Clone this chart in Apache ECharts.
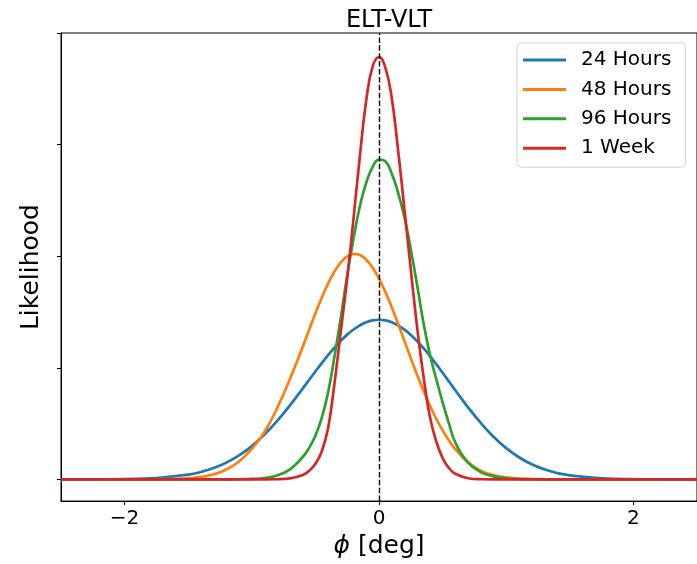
<!DOCTYPE html>
<html>
<head>
<meta charset="utf-8">
<script src="https://cdn.jsdelivr.net/npm/echarts@6/dist/echarts.min.js"></script>
<style>
  html, body { margin: 0; padding: 0; background: #fff; }
  #chart { width: 697px; height: 564px; }
</style>
</head>
<body>
<div id="chart"></div>
<script>
// phi [deg] sample positions
var phi = [-2.5,-2.25,-2,-1.75,-1.5,-1.4,-1.3,-1.2,-1.1,-1.0,-0.9,-0.8,-0.7,-0.6,
  -0.55,-0.5,-0.45,-0.4,-0.35,-0.3,-0.25,-0.2,-0.15,-0.1,-0.05,0,0.05,0.1,0.15,0.2,0.25,0.3,0.35,0.4,0.45,0.5,0.55,
  0.6,0.7,0.8,0.9,1.0,1.1,1.2,1.3,1.4,1.5,1.75,2,2.25,2.5];

var seriesNames = ['24 Hours', '48 Hours', '96 Hours', '1 Week'];

var hours24 = [0.0001,0.0005,0.003,0.012,0.042,0.066,0.101,0.150,0.215,0.298,0.402,0.524,0.663,0.813,
  0.890,0.966,1.041,1.113,1.180,1.242,1.297,1.343,1.380,1.408,1.424,1.430,1.424,1.408,1.379,1.341,1.294,1.238,1.175,1.106,1.032,0.955,0.877,
  0.798,0.645,0.505,0.382,0.280,0.198,0.135,0.090,0.057,0.036,0.010,0.002,0.0004,0.0001];

var hours48 = [0,0,0.0001,0.001,0.010,0.022,0.045,0.088,0.160,0.272,0.425,0.640,0.900,1.185,
  1.338,1.488,1.628,1.755,1.862,1.944,1.998,2.020,2.010,1.968,1.897,1.799,1.679,1.543,1.395,1.240,1.086,0.936,0.793,0.662,0.543,0.439,0.349,
  0.270,0.152,0.078,0.038,0.017,0.007,0.003,0.001,0.0004,0.0001,0,0,0,0];

var hours96 = [0,0,0,0,0,0,0,0,0.001,0.004,0.012,0.035,0.090,0.200,
  0.280,0.390,0.550,0.780,1.100,1.450,1.830,2.160,2.450,2.660,2.800,2.865,2.850,2.740,2.570,2.350,2.060,1.740,1.400,1.120,0.900,0.690,0.500,
  0.330,0.150,0.065,0.027,0.010,0.003,0.001,0,0,0,0,0,0,0];

var week1 = [0,0,0,0,0,0,0,0,0,0,0,0.001,0.008,0.038,
  0.075,0.140,0.250,0.460,0.860,1.330,1.800,2.340,2.900,3.400,3.700,3.785,3.690,3.420,2.950,2.420,1.880,1.360,0.920,0.560,0.340,0.190,0.100,
  0.050,0.010,0.001,0,0,0,0,0,0,0,0,0,0,0];

var xTicks = [-2, 0, 2];
var yTicks = [0, 1, 2, 3, 4];

var colors = ['#1f77b4', '#ff7f0e', '#2ca02c', '#d62728'];
var values = [hours24, hours48, hours96, week1];

function pairs(ys) {
  return phi.map(function (x, i) { return [x, ys[i]]; });
}

var FONT = 'DejaVu Sans';

var series = values.map(function (ys, k) {
  var s = {
    name: seriesNames[k],
    type: 'line',
    data: pairs(ys),
    showSymbol: false,
    smooth: 0.45,
    lineStyle: { color: colors[k], width: 2.7 },
    itemStyle: { color: colors[k] },
    emphasis: { disabled: true },
    silent: true
  };
  if (k === 0) {
    s.markLine = {
      silent: true,
      symbol: ['none', 'none'],
      label: { show: false },
      lineStyle: { color: '#000', type: [5.5, 2.4], width: 1.4 },
      data: [{ xAxis: 0 }]
    };
  }
  return s;
});

var chart = echarts.init(document.getElementById('chart'), null, { renderer: 'canvas' });
chart.setOption({
  animation: false,
  backgroundColor: '#fff',
  title: {
    text: 'ELT-VLT',
    left: 384,
    textAlign: 'center',
    top: 4,
    textStyle: { fontFamily: FONT, fontSize: 24, fontWeight: 'normal', color: '#000' }
  },
  legend: {
    data: seriesNames,
    orient: 'vertical',
    left: 517,
    top: 43,
    icon: 'rect',
    itemWidth: 43,
    itemHeight: 3,
    itemGap: 9.4,
    padding: [7, 14, 9, 6],
    borderColor: '#d0d0d0',
    borderWidth: 1,
    borderRadius: 4,
    backgroundColor: 'rgba(255,255,255,0.8)',
    textStyle: { fontFamily: FONT, fontSize: 20, color: '#000', lineHeight: 20, padding: [0, 0, 0, 10] }
  },
  grid: {
    left: 61, right: 0, top: 33, bottom: 58,
    show: true, borderColor: '#000', borderWidth: 1, backgroundColor: 'transparent'
  },
  xAxis: {
    type: 'value',
    min: -2.5, max: 2.5,
    name: '{i|ϕ} [deg]',
    nameLocation: 'middle',
    nameGap: 31,
    nameTextStyle: {
      fontFamily: FONT, fontSize: 25, color: '#000',
      rich: { i: { fontFamily: FONT, fontSize: 25, fontStyle: 'italic', color: '#000' } }
    },
    axisLine: { show: true, onZero: false, lineStyle: { color: '#000', width: 1 } },
    axisTick: { show: true, customValues: xTicks, length: 4, lineStyle: { color: '#000', width: 1 } },
    axisLabel: {
      customValues: xTicks,
      margin: 8,
      fontFamily: FONT, fontSize: 20, color: '#000',
      formatter: function (v) { return v < 0 ? '\u2212' + Math.abs(v) : String(v); }
    },
    splitLine: { show: false }
  },
  yAxis: {
    type: 'value',
    min: -0.195, max: 4.0,
    name: 'Likelihood',
    nameLocation: 'middle',
    nameGap: 17,
    nameTextStyle: { fontFamily: FONT, fontSize: 25, color: '#000' },
    axisLine: { show: true, onZero: false, lineStyle: { color: '#000', width: 1 } },
    axisTick: { show: true, customValues: yTicks, length: 4, lineStyle: { color: '#000', width: 1 } },
    axisLabel: { show: false, customValues: yTicks },
    splitLine: { show: false }
  },
  series: series
});
</script>
</body>
</html>
